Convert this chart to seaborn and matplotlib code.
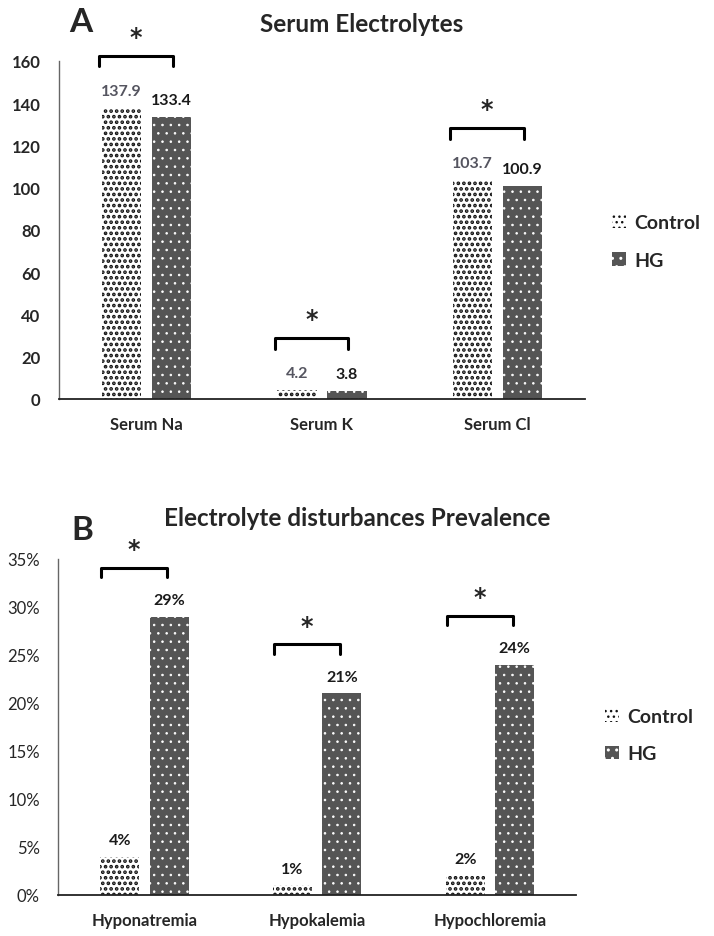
import numpy as np
import pandas as pd
import matplotlib
matplotlib.use("Agg")
import matplotlib.pyplot as plt
import matplotlib.patches as mpatches
from matplotlib.ticker import FuncFormatter
import seaborn as sns

# data
groups = ["Control", "HG"]
cats_a = ["Serum Na", "Serum K", "Serum Cl"]
control_a = [137.9, 4.2, 103.7]
hg_a = [133.4, 3.8, 100.9]
cats_b = ["Hyponatremia", "Hypokalemia", "Hypochloremia"]
control_b = [4, 1, 2]
hg_b = [29, 21, 24]
yticks_a = [0, 20, 40, 60, 80, 100, 120, 140, 160]
yticks_b = [0, 5, 10, 15, 20, 25, 30, 35]

df_a = pd.DataFrame({"cat": cats_a * 2, "group": ["Control"] * 3 + ["HG"] * 3,
                     "val": control_a + hg_a})
df_b = pd.DataFrame({"cat": cats_b * 2, "group": ["Control"] * 3 + ["HG"] * 3,
                     "val": control_b + hg_b})

sns.set_style("white")
plt.rcParams["font.family"] = ["Lato", "DejaVu Sans"]
plt.rcParams["hatch.linewidth"] = 1.0

W, H = 714, 937
fig = plt.figure(figsize=(W / 100, H / 100), dpi=100)

# style per group: facecolor, hatch colour, hatch, hatch linewidth
styles = {"Control": ("white", "#111111", "...", 1.8),
          "HG": ("#555555", "white", "..", 0.6)}


def px(x, y):
    return x / W, 1 - y / H


def dress(p, g):
    fc, hc, hatch, hlw = styles[g]
    p.set_facecolor(fc)
    p.set_edgecolor(hc)
    p.set_hatch(hatch)
    p.set_linewidth(0)
    if hasattr(p, "set_hatch_linewidth"):
        p.set_hatch_linewidth(hlw)


def style_bars(ax):
    for cont, g in zip(ax.containers, groups):
        for bar in cont:
            dress(bar, g)


def brackets(ax, heights, up, leg, star, left, right):
    for i, h in enumerate(heights):
        top = h + up
        x0, x1 = i - left, i + right
        ax.plot([x0, x0, x1, x1], [top - leg, top, top, top - leg], color="black",
                lw=2.2, clip_on=False, solid_joinstyle="round")
        ax.text((x0 + x1) / 2, top + star, "*", ha="center", va="center",
                fontsize=17, fontweight="bold", family="DejaVu Sans", clip_on=False)


def setup_axes(ax):
    sns.despine(ax=ax)
    ax.spines["left"].set_color("#666666")
    ax.spines["left"].set_linewidth(1.0)
    ax.spines["bottom"].set_color("#222222")
    ax.spines["bottom"].set_linewidth(1.3)
    ax.tick_params(axis="both", length=0)
    ax.set_xlabel("")
    ax.set_ylabel("")
    ax.set_xlim(-0.5, 2.5)


def make_legend(x, yc):
    handles = []
    for g in groups:
        p = mpatches.Patch(label=g)
        dress(p, g)
        handles.append(p)
    fig.legend(handles=handles, loc="center left", bbox_to_anchor=px(x, yc),
               frameon=False, prop={"weight": "bold", "size": 14},
               handlelength=0.7, handleheight=0.7, handletextpad=0.45,
               labelspacing=1.05, borderpad=0, borderaxespad=0)


# ---- Panel A ----
ax1 = fig.add_axes([58.75 / W, 1 - 400 / H, (585 - 58.75) / W, 338 / H])
sns.barplot(data=df_a, x="cat", y="val", hue="group", order=cats_a, hue_order=groups,
            width=0.57, gap=0.21, legend=False, ax=ax1)
style_bars(ax1)
setup_axes(ax1)
ax1.set_ylim(0, 160)
ax1.set_yticks(yticks_a)
ax1.tick_params(axis="y", pad=13, labelsize=12)
ax1.tick_params(axis="x", pad=12, labelsize=12)
for t in ax1.get_yticklabels() + ax1.get_xticklabels():
    t.set_fontweight("bold")
ax1.bar_label(ax1.containers[0], fmt="%.1f", padding=7, fontsize=11.5, color="#555560",
              fontweight="bold")
ax1.bar_label(ax1.containers[1], fmt="%.1f", padding=7, fontsize=11.5, color="#1a1a1a",
              fontweight="bold")
brackets(ax1, np.maximum(control_a, hg_a), 24.5, 5.0, 9.0, 0.27, 0.15)
make_legend(612, 242.5)

fig.text(*px(81, 23), "A", ha="center", va="center", fontsize=24, fontweight="bold")
fig.text(*px(362, 24), "Serum Electrolytes", ha="center", va="center", fontsize=17.5,
         fontweight="bold")

# ---- Panel B ----
ax2 = fig.add_axes([58 / W, 1 - 896 / H, (576.5 - 58) / W, 336 / H])
sns.barplot(data=df_b, x="cat", y="val", hue="group", order=cats_b, hue_order=groups,
            width=0.57, gap=0.21, legend=False, ax=ax2)
style_bars(ax2)
setup_axes(ax2)
ax2.set_ylim(0, 35)
ax2.set_yticks(yticks_b)
ax2.yaxis.set_major_formatter(FuncFormatter(lambda v, p: f"{v:.0f}%"))
ax2.tick_params(axis="y", pad=13, labelsize=12)
ax2.tick_params(axis="x", pad=12, labelsize=12)
for t in ax2.get_xticklabels():
    t.set_fontweight("bold")
for cont in ax2.containers:
    ax2.bar_label(cont, fmt="%.0f%%", padding=7, fontsize=11.5, color="#1a1a1a",
                  fontweight="bold")
brackets(ax2, np.maximum(control_b, hg_b), 5.1, 1.0, 1.9, 0.25, 0.13)
make_legend(605, 736)

fig.text(*px(82, 531), "B", ha="center", va="center", fontsize=24, fontweight="bold")
fig.text(*px(357, 519), "Electrolyte disturbances Prevalence", ha="center", va="center",
         fontsize=17.5, fontweight="bold")

fig.savefig("out.png", dpi=100)
